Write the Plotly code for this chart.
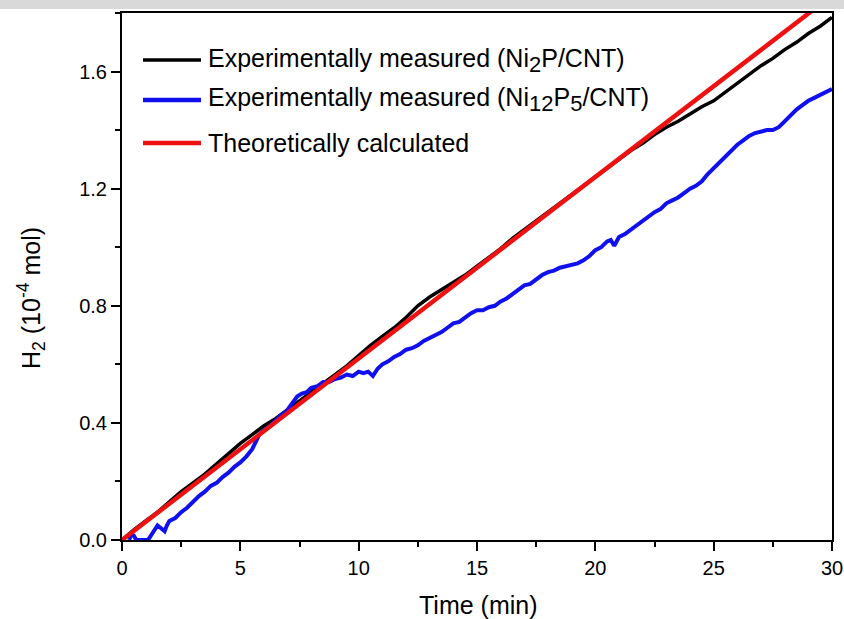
import plotly.graph_objects as go

# ---- data ----
t_ni2p = [0, 0.5, 1, 1.5, 2, 2.5, 3, 3.5, 4, 4.5, 5, 5.5, 6, 6.5, 7, 7.5, 8, 8.5, 9, 9.5,
          10, 10.5, 11, 11.5, 12, 12.5, 13, 13.5, 14, 14.5, 15, 15.5, 16, 16.5, 17, 17.5,
          18, 18.5, 19, 19.5, 20, 20.5, 21, 21.5, 22, 22.5, 23, 23.5, 24, 24.5, 25, 25.5,
          26, 26.5, 27, 27.5, 28, 28.5, 29, 29.5, 30]
h2_ni2p = [0.0, 0.035, 0.065, 0.095, 0.13, 0.165, 0.195, 0.225, 0.26, 0.295, 0.33, 0.36,
           0.39, 0.415, 0.445, 0.475, 0.505, 0.535, 0.565, 0.595, 0.63, 0.665, 0.695, 0.725,
           0.76, 0.80, 0.83, 0.855, 0.88, 0.905, 0.935, 0.965, 0.995, 1.03, 1.06, 1.09, 1.12,
           1.15, 1.18, 1.21, 1.24, 1.27, 1.30, 1.33, 1.355, 1.385, 1.41, 1.43, 1.455, 1.48,
           1.50, 1.53, 1.56, 1.59, 1.62, 1.645, 1.675, 1.70, 1.73, 1.755, 1.785]

t_ni12p5 = [0.3, 0.4, 0.5, 0.6, 1.1, 1.25, 1.4, 1.5, 1.65, 1.8, 1.9, 2.0, 2.25, 2.5, 2.75,
            3.0, 3.25, 3.5, 3.75, 4.0, 4.25, 4.5, 4.75, 5.0, 5.25, 5.5, 5.65, 5.8, 6.0, 6.2,
            6.45, 6.7, 6.95, 7.2, 7.4, 7.6, 7.8, 8.0, 8.25, 8.5, 8.75, 9.0, 9.25, 9.5, 9.75,
            10.0, 10.2, 10.4, 10.6, 10.8, 11.0, 11.25, 11.5, 11.75, 12.0, 12.25, 12.5, 12.75,
            13.0, 13.25, 13.5, 13.75, 14.0, 14.25, 14.5, 14.75, 15.0, 15.25, 15.5, 15.75,
            16.0, 16.25, 16.5, 16.75, 17.0, 17.25, 17.5, 17.75, 18.0, 18.25, 18.5, 18.75,
            19.0, 19.25, 19.5, 19.75, 20.0, 20.25, 20.5, 20.65, 20.8, 20.9, 21.0, 21.25,
            21.5, 21.75, 22.0, 22.25, 22.5, 22.75, 23.0, 23.25, 23.5, 23.75, 24.0, 24.25,
            24.5, 24.75, 25.0, 25.25, 25.5, 25.75, 26.0, 26.25, 26.5, 26.75, 27.0, 27.25,
            27.5, 27.75, 28.0, 28.25, 28.5, 28.75, 29.0, 29.25, 29.5, 29.75, 30.0]
h2_ni12p5 = [0.0, 0.02, 0.015, 0.0, 0.0, 0.02, 0.035, 0.05, 0.04, 0.03, 0.05, 0.065, 0.075,
             0.095, 0.11, 0.13, 0.15, 0.165, 0.185, 0.195, 0.215, 0.23, 0.25, 0.265, 0.285,
             0.31, 0.335, 0.36, 0.375, 0.385, 0.405, 0.425, 0.44, 0.47, 0.49, 0.50, 0.505,
             0.52, 0.525, 0.54, 0.54, 0.55, 0.555, 0.565, 0.56, 0.575, 0.57, 0.575, 0.56,
             0.585, 0.60, 0.61, 0.625, 0.635, 0.65, 0.655, 0.665, 0.68, 0.69, 0.70, 0.71,
             0.725, 0.74, 0.745, 0.76, 0.775, 0.785, 0.785, 0.795, 0.80, 0.815, 0.825, 0.84,
             0.855, 0.87, 0.875, 0.89, 0.905, 0.915, 0.92, 0.93, 0.935, 0.94, 0.945, 0.955,
             0.97, 0.99, 1.0, 1.02, 1.025, 1.005, 1.02, 1.035, 1.045, 1.06, 1.075, 1.09,
             1.105, 1.12, 1.13, 1.15, 1.16, 1.17, 1.185, 1.20, 1.21, 1.225, 1.25, 1.27, 1.29,
             1.31, 1.33, 1.35, 1.365, 1.38, 1.39, 1.395, 1.40, 1.40, 1.41, 1.43, 1.45, 1.47,
             1.485, 1.50, 1.51, 1.52, 1.53, 1.54]

t_theory = [0, 30]
h2_theory = [0.0, 1.86]

SUB = "<sub><span style='font-size:22px'>{}</span></sub>"
legend_labels = ["Experimentally measured (Ni" + SUB.format("2") + "P/CNT)",
                 "Experimentally measured (Ni" + SUB.format("12") + "P" + SUB.format("5") + "/CNT)",
                 "Theoretically calculated"]
legend_colors = ["black", "#1010ee", "#ee1111"]

x_ticks = [0, 5, 10, 15, 20, 25, 30]
y_ticks = [0.0, 0.4, 0.8, 1.2, 1.6]

FONT = "Liberation Sans, Arial, sans-serif"

fig = go.Figure()
fig.add_trace(go.Scatter(x=t_ni2p, y=h2_ni2p, mode="lines",
                         line=dict(color=legend_colors[0], width=3.5), showlegend=False))
fig.add_trace(go.Scatter(x=t_ni12p5, y=h2_ni12p5, mode="lines",
                         line=dict(color=legend_colors[1], width=4), showlegend=False))
fig.add_trace(go.Scatter(x=t_theory, y=h2_theory, mode="lines",
                         line=dict(color=legend_colors[2], width=4.5), showlegend=False))

W, H = 844, 619
L, R, T, B = 122, 12, 13, 79
pw, ph = W - L - R, H - T - B

def px(xp):
    return (xp - L) / pw

def py(yp):
    return (H - B - yp) / ph

shapes = []
annotations = []
# grey band at the very top of the picture
shapes.append(dict(type="rect", xref="paper", yref="paper", x0=px(0), x1=px(W),
                   y0=py(9), y1=py(0), fillcolor="#d9d9d9", line=dict(width=0), layer="above"))

rows = [60, 100, 143]
for lab, col, yr in zip(legend_labels, legend_colors, rows):
    shapes.append(dict(type="line", xref="paper", yref="paper", x0=px(143), x1=px(201),
                       y0=py(yr), y1=py(yr), line=dict(color=col, width=3.5 if col == "black" else 4.5)))
    annotations.append(dict(xref="paper", yref="paper", x=px(206), y=py(yr), text=lab,
                            showarrow=False, xanchor="left", yanchor="middle",
                            font=dict(family=FONT, size=25, color="black")))

annotations.append(dict(xref="paper", yref="paper", x=px(478), y=py(605), text="Time (min)",
                        showarrow=False, xanchor="center", yanchor="middle",
                        font=dict(family=FONT, size=25, color="black")))
annotations.append(dict(xref="paper", yref="paper", x=px(31), y=py(298),
                        text="H<sub>2</sub> (10<sup>-4</sup> mol)", textangle=-90,
                        showarrow=False, xanchor="center", yanchor="middle",
                        font=dict(family=FONT, size=25, color="black")))

axis_common = dict(showgrid=False, zeroline=False, showline=True, linecolor="black",
                   linewidth=2, mirror=True, ticks="outside", ticklen=9, tickwidth=2,
                   tickcolor="black", tickfont=dict(family=FONT, size=20, color="black"))

fig.update_xaxes(range=[0, 30], tickvals=x_ticks, ticktext=[str(v) for v in x_ticks],
                 minor=dict(ticks="outside", ticklen=5, tickwidth=2, tickcolor="black", dtick=2.5),
                 **axis_common)
fig.update_yaxes(range=[0, 1.8], tickvals=y_ticks, ticktext=[f"{v:.1f}" for v in y_ticks],
                 minor=dict(ticks="outside", ticklen=5, tickwidth=2, tickcolor="black", dtick=0.2),
                 **axis_common)

fig.update_layout(width=W, height=H, margin=dict(l=L, r=R, t=T, b=B, autoexpand=False),
                  paper_bgcolor="white", plot_bgcolor="white",
                  shapes=shapes, annotations=annotations, showlegend=False)

fig.write_html("out.html", config={"displayModeBar": False},
               post_script="document.body.style.margin='0';document.body.style.overflow='hidden';")
